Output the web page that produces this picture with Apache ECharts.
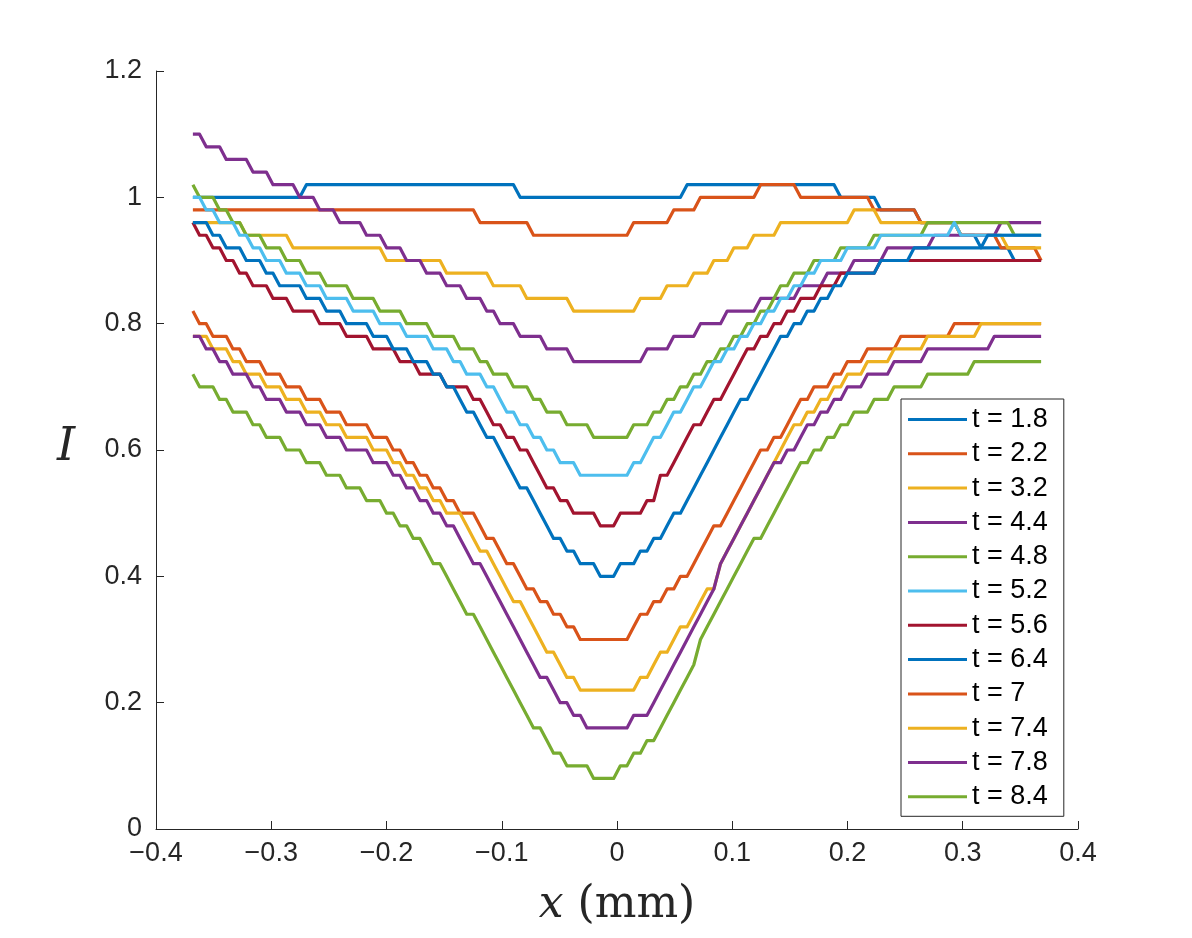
<!DOCTYPE html>
<html>
<head>
<meta charset="utf-8">
<script src="https://cdn.jsdelivr.net/npm/echarts@6/dist/echarts.min.js"></script>
<style>
  html, body { margin: 0; padding: 0; background: #fff; }
  #chart { width: 1192px; height: 938px; }
</style>
</head>
<body>
<div id="chart"></div>
<script>
// sampling grid of the profiles (mm)
const xStart = -0.368;
const xEnd = 0.368;
const nSamples = 128;

const legendNames = ['t = 1.8', 't = 2.2', 't = 3.2', 't = 4.4', 't = 4.8', 't = 5.2',
  't = 5.6', 't = 6.4', 't = 7', 't = 7.4', 't = 7.8', 't = 8.4'];

const xTicks = [-0.4, -0.3, -0.2, -0.1, 0, 0.1, 0.2, 0.3, 0.4];
const yTicks = [0, 0.2, 0.4, 0.6, 0.8, 1, 1.2];

// intensity profiles (8 samples per row)
const t18 = [
  1,1,1,1,1,1,1,1,
  1,1,1,1,1,1,1,1,
  1,1.02,1.02,1.02,1.02,1.02,1.02,1.02,
  1.02,1.02,1.02,1.02,1.02,1.02,1.02,1.02,
  1.02,1.02,1.02,1.02,1.02,1.02,1.02,1.02,
  1.02,1.02,1.02,1.02,1.02,1.02,1.02,1.02,
  1.02,1,1,1,1,1,1,1,
  1,1,1,1,1,1,1,1,
  1,1,1,1,1,1,1,1,
  1,1,1.02,1.02,1.02,1.02,1.02,1.02,
  1.02,1.02,1.02,1.02,1.02,1.02,1.02,1.02,
  1.02,1.02,1.02,1.02,1.02,1.02,1.02,1.02,
  1.02,1,1,1,1,1,1,0.98,
  0.98,0.98,0.98,0.98,0.98,0.96,0.96,0.96,
  0.96,0.96,0.96,0.94,0.94,0.94,0.92,0.92,
  0.92,0.92,0.92,0.9,0.9,0.9,0.9,0.9
];
const t22 = [
  0.98,0.98,0.98,0.98,0.98,0.98,0.98,0.98,
  0.98,0.98,0.98,0.98,0.98,0.98,0.98,0.98,
  0.98,0.98,0.98,0.98,0.98,0.98,0.98,0.98,
  0.98,0.98,0.98,0.98,0.98,0.98,0.98,0.98,
  0.98,0.98,0.98,0.98,0.98,0.98,0.98,0.98,
  0.98,0.98,0.98,0.96,0.96,0.96,0.96,0.96,
  0.96,0.96,0.96,0.94,0.94,0.94,0.94,0.94,
  0.94,0.94,0.94,0.94,0.94,0.94,0.94,0.94,
  0.94,0.94,0.96,0.96,0.96,0.96,0.96,0.96,
  0.98,0.98,0.98,0.98,1,1,1,1,
  1,1,1,1,1,1.02,1.02,1.02,
  1.02,1.02,1.02,1,1,1,1,1,
  1,1,1,1,1,1,0.98,0.98,
  0.98,0.98,0.98,0.98,0.98,0.96,0.96,0.96,
  0.96,0.96,0.96,0.94,0.94,0.94,0.94,0.94,
  0.94,0.92,0.92,0.92,0.92,0.92,0.92,0.9
];
const t32 = [
  0.96,0.96,0.96,0.96,0.96,0.96,0.96,0.96,
  0.94,0.94,0.94,0.94,0.94,0.94,0.94,0.92,
  0.92,0.92,0.92,0.92,0.92,0.92,0.92,0.92,
  0.92,0.92,0.92,0.92,0.92,0.9,0.9,0.9,
  0.9,0.9,0.9,0.9,0.9,0.9,0.88,0.88,
  0.88,0.88,0.88,0.88,0.88,0.86,0.86,0.86,
  0.86,0.86,0.84,0.84,0.84,0.84,0.84,0.84,
  0.84,0.82,0.82,0.82,0.82,0.82,0.82,0.82,
  0.82,0.82,0.82,0.84,0.84,0.84,0.84,0.86,
  0.86,0.86,0.86,0.88,0.88,0.88,0.9,0.9,
  0.9,0.92,0.92,0.92,0.94,0.94,0.94,0.94,
  0.96,0.96,0.96,0.96,0.96,0.96,0.96,0.96,
  0.96,0.96,0.96,0.98,0.98,0.98,0.98,0.96,
  0.96,0.96,0.96,0.96,0.96,0.96,0.96,0.96,
  0.96,0.96,0.96,0.94,0.94,0.94,0.94,0.94,
  0.94,0.94,0.92,0.92,0.92,0.92,0.92,0.92
];
const t44 = [
  1.1,1.1,1.08,1.08,1.08,1.06,1.06,1.06,
  1.06,1.04,1.04,1.04,1.02,1.02,1.02,1.02,
  1,1,1,0.98,0.98,0.98,0.96,0.96,
  0.96,0.96,0.94,0.94,0.94,0.92,0.92,0.92,
  0.9,0.9,0.9,0.88,0.88,0.88,0.86,0.86,
  0.86,0.84,0.84,0.84,0.82,0.82,0.8,0.8,
  0.8,0.78,0.78,0.78,0.78,0.76,0.76,0.76,
  0.76,0.74,0.74,0.74,0.74,0.74,0.74,0.74,
  0.74,0.74,0.74,0.74,0.76,0.76,0.76,0.76,
  0.78,0.78,0.78,0.78,0.8,0.8,0.8,0.8,
  0.82,0.82,0.82,0.82,0.82,0.84,0.84,0.84,
  0.84,0.84,0.84,0.86,0.86,0.86,0.86,0.88,
  0.88,0.88,0.88,0.9,0.9,0.9,0.9,0.9,
  0.92,0.92,0.92,0.92,0.92,0.92,0.92,0.94,
  0.94,0.94,0.94,0.94,0.94,0.94,0.94,0.94,
  0.94,0.96,0.96,0.96,0.96,0.96,0.96,0.96
];
const t48 = [
  1.02,1,1,1,0.98,0.98,0.96,0.96,
  0.94,0.94,0.94,0.92,0.92,0.92,0.9,0.9,
  0.9,0.88,0.88,0.88,0.86,0.86,0.86,0.86,
  0.84,0.84,0.84,0.84,0.82,0.82,0.82,0.82,
  0.8,0.8,0.8,0.8,0.78,0.78,0.78,0.78,
  0.76,0.76,0.76,0.74,0.74,0.72,0.72,0.72,
  0.7,0.7,0.7,0.68,0.68,0.66,0.66,0.66,
  0.64,0.64,0.64,0.64,0.62,0.62,0.62,0.62,
  0.62,0.62,0.64,0.64,0.64,0.66,0.66,0.68,
  0.68,0.7,0.7,0.72,0.72,0.74,0.74,0.76,
  0.76,0.78,0.78,0.8,0.8,0.82,0.82,0.84,
  0.86,0.86,0.88,0.88,0.88,0.9,0.9,0.9,
  0.9,0.92,0.92,0.92,0.92,0.92,0.94,0.94,
  0.94,0.94,0.94,0.94,0.94,0.94,0.96,0.96,
  0.96,0.96,0.96,0.96,0.96,0.96,0.96,0.96,
  0.96,0.96,0.96,0.94,0.94,0.94,0.94,0.94
];
const t52 = [
  1,1,0.98,0.98,0.96,0.96,0.96,0.94,
  0.94,0.92,0.92,0.9,0.9,0.9,0.88,0.88,
  0.88,0.86,0.86,0.86,0.84,0.84,0.84,0.84,
  0.82,0.82,0.82,0.82,0.8,0.8,0.8,0.8,
  0.78,0.78,0.78,0.78,0.76,0.76,0.76,0.74,
  0.74,0.72,0.72,0.72,0.7,0.7,0.68,0.66,
  0.66,0.64,0.64,0.62,0.62,0.6,0.6,0.58,
  0.58,0.58,0.56,0.56,0.56,0.56,0.56,0.56,
  0.56,0.56,0.58,0.58,0.6,0.62,0.62,0.64,
  0.66,0.66,0.68,0.7,0.7,0.72,0.74,0.74,
  0.76,0.76,0.78,0.78,0.8,0.8,0.82,0.82,
  0.84,0.84,0.86,0.86,0.88,0.88,0.9,0.9,
  0.9,0.9,0.92,0.92,0.92,0.92,0.92,0.94,
  0.94,0.94,0.94,0.94,0.94,0.94,0.94,0.94,
  0.94,0.94,0.96,0.94,0.94,0.94,0.94,0.94,
  0.94,0.94,0.94,0.94,0.94,0.94,0.94,0.94
];
const t56 = [
  0.96,0.94,0.94,0.92,0.92,0.9,0.9,0.88,
  0.88,0.86,0.86,0.86,0.84,0.84,0.84,0.82,
  0.82,0.82,0.82,0.8,0.8,0.8,0.8,0.78,
  0.78,0.78,0.78,0.76,0.76,0.76,0.76,0.74,
  0.74,0.74,0.72,0.72,0.72,0.72,0.7,0.7,
  0.7,0.7,0.68,0.68,0.66,0.64,0.64,0.62,
  0.62,0.6,0.6,0.58,0.56,0.54,0.54,0.52,
  0.52,0.5,0.5,0.5,0.5,0.48,0.48,0.48,
  0.5,0.5,0.5,0.5,0.52,0.52,0.56,0.56,
  0.58,0.6,0.62,0.64,0.64,0.66,0.68,0.68,
  0.7,0.72,0.74,0.76,0.76,0.78,0.78,0.8,
  0.8,0.82,0.82,0.84,0.84,0.84,0.86,0.86,
  0.86,0.88,0.88,0.88,0.88,0.88,0.88,0.9,
  0.9,0.9,0.9,0.9,0.9,0.9,0.9,0.9,
  0.9,0.9,0.9,0.9,0.9,0.9,0.9,0.9,
  0.9,0.9,0.9,0.9,0.9,0.9,0.9,0.9
];
const t64 = [
  0.96,0.96,0.96,0.94,0.94,0.92,0.92,0.92,
  0.9,0.9,0.9,0.88,0.88,0.86,0.86,0.86,
  0.86,0.84,0.84,0.84,0.82,0.82,0.82,0.8,
  0.8,0.8,0.8,0.78,0.78,0.78,0.76,0.76,
  0.76,0.74,0.74,0.74,0.72,0.72,0.7,0.7,
  0.68,0.66,0.66,0.64,0.62,0.62,0.6,0.58,
  0.56,0.54,0.54,0.52,0.5,0.48,0.46,0.46,
  0.44,0.44,0.42,0.42,0.42,0.4,0.4,0.4,
  0.42,0.42,0.42,0.44,0.44,0.46,0.46,0.48,
  0.5,0.5,0.52,0.54,0.56,0.58,0.6,0.62,
  0.64,0.66,0.68,0.68,0.7,0.72,0.74,0.76,
  0.78,0.78,0.8,0.8,0.82,0.82,0.84,0.84,
  0.86,0.86,0.88,0.88,0.88,0.88,0.88,0.9,
  0.9,0.9,0.9,0.9,0.92,0.92,0.92,0.92,
  0.92,0.92,0.92,0.92,0.92,0.92,0.92,0.94,
  0.94,0.94,0.94,0.94,0.94,0.94,0.94,0.94
];
const t70 = [
  0.82,0.8,0.8,0.78,0.78,0.78,0.76,0.76,
  0.74,0.74,0.74,0.72,0.72,0.72,0.7,0.7,
  0.7,0.68,0.68,0.68,0.66,0.66,0.66,0.64,
  0.64,0.64,0.64,0.62,0.62,0.62,0.6,0.6,
  0.58,0.58,0.56,0.56,0.54,0.54,0.52,0.52,
  0.5,0.5,0.5,0.48,0.46,0.46,0.44,0.42,
  0.42,0.4,0.38,0.38,0.36,0.36,0.34,0.34,
  0.32,0.32,0.3,0.3,0.3,0.3,0.3,0.3,
  0.3,0.3,0.32,0.34,0.34,0.36,0.36,0.38,
  0.38,0.4,0.4,0.42,0.44,0.46,0.48,0.48,
  0.5,0.52,0.54,0.56,0.58,0.6,0.6,0.62,
  0.62,0.64,0.66,0.68,0.68,0.7,0.7,0.7,
  0.72,0.72,0.74,0.74,0.74,0.76,0.76,0.76,
  0.76,0.76,0.78,0.78,0.78,0.78,0.78,0.78,
  0.78,0.78,0.8,0.8,0.8,0.8,0.8,0.8,
  0.8,0.8,0.8,0.8,0.8,0.8,0.8,0.8
];
const t74 = [
  0.78,0.78,0.78,0.76,0.76,0.76,0.74,0.74,
  0.72,0.72,0.72,0.7,0.7,0.7,0.68,0.68,
  0.68,0.66,0.66,0.66,0.64,0.64,0.64,0.62,
  0.62,0.62,0.62,0.6,0.6,0.6,0.58,0.58,
  0.56,0.56,0.54,0.54,0.52,0.52,0.5,0.5,
  0.5,0.48,0.46,0.44,0.44,0.42,0.4,0.38,
  0.36,0.36,0.34,0.32,0.3,0.28,0.28,0.26,
  0.24,0.24,0.22,0.22,0.22,0.22,0.22,0.22,
  0.22,0.22,0.22,0.24,0.24,0.26,0.28,0.28,
  0.3,0.32,0.32,0.34,0.36,0.38,0.38,0.42,
  0.44,0.46,0.48,0.5,0.52,0.54,0.56,0.58,
  0.6,0.62,0.64,0.64,0.66,0.66,0.68,0.68,
  0.7,0.7,0.72,0.72,0.72,0.74,0.74,0.74,
  0.74,0.76,0.76,0.76,0.76,0.76,0.78,0.78,
  0.78,0.78,0.78,0.78,0.78,0.78,0.8,0.8,
  0.8,0.8,0.8,0.8,0.8,0.8,0.8,0.8
];
const t78 = [
  0.78,0.78,0.76,0.76,0.74,0.74,0.72,0.72,
  0.72,0.7,0.7,0.68,0.68,0.68,0.66,0.66,
  0.66,0.64,0.64,0.64,0.62,0.62,0.62,0.6,
  0.6,0.6,0.6,0.58,0.58,0.58,0.56,0.56,
  0.54,0.54,0.52,0.52,0.5,0.5,0.48,0.48,
  0.46,0.44,0.42,0.42,0.4,0.38,0.36,0.34,
  0.32,0.3,0.28,0.26,0.24,0.24,0.22,0.2,
  0.2,0.18,0.18,0.16,0.16,0.16,0.16,0.16,
  0.16,0.16,0.18,0.18,0.18,0.2,0.22,0.24,
  0.26,0.28,0.3,0.32,0.34,0.36,0.38,0.42,
  0.44,0.46,0.48,0.5,0.52,0.54,0.56,0.58,
  0.58,0.6,0.6,0.62,0.64,0.64,0.66,0.66,
  0.68,0.68,0.7,0.7,0.7,0.72,0.72,0.72,
  0.72,0.74,0.74,0.74,0.74,0.74,0.76,0.76,
  0.76,0.76,0.76,0.76,0.76,0.76,0.76,0.76,
  0.78,0.78,0.78,0.78,0.78,0.78,0.78,0.78
];
const t84 = [
  0.72,0.7,0.7,0.7,0.68,0.68,0.66,0.66,
  0.66,0.64,0.64,0.62,0.62,0.62,0.6,0.6,
  0.6,0.58,0.58,0.58,0.56,0.56,0.56,0.54,
  0.54,0.54,0.52,0.52,0.52,0.5,0.5,0.48,
  0.48,0.46,0.46,0.44,0.42,0.42,0.4,0.38,
  0.36,0.34,0.34,0.32,0.3,0.28,0.26,0.24,
  0.22,0.2,0.18,0.16,0.16,0.14,0.12,0.12,
  0.1,0.1,0.1,0.1,0.08,0.08,0.08,0.08,
  0.1,0.1,0.12,0.12,0.14,0.14,0.16,0.18,
  0.2,0.22,0.24,0.26,0.3,0.32,0.34,0.36,
  0.38,0.4,0.42,0.44,0.46,0.46,0.48,0.5,
  0.52,0.54,0.56,0.58,0.58,0.6,0.6,0.62,
  0.62,0.64,0.64,0.66,0.66,0.66,0.68,0.68,
  0.68,0.7,0.7,0.7,0.7,0.7,0.72,0.72,
  0.72,0.72,0.72,0.72,0.72,0.74,0.74,0.74,
  0.74,0.74,0.74,0.74,0.74,0.74,0.74,0.74
];

const profiles = [t18, t22, t32, t44, t48, t52, t56, t64, t70, t74, t78, t84];
const colors = ['#0072BD', '#D95319', '#EDB120', '#7E2F8E', '#77AC30', '#4DBEEE', '#A2142F'];

const xs = [];
for (let i = 0; i < nSamples; i++) {
  xs.push(xStart + i * (xEnd - xStart) / (nSamples - 1));
}

const axisColor = '#262626';
const tickFont = '"Liberation Sans", Arial, Helvetica, sans-serif';
const fmt = v => {
  const r = Math.round(v * 10) / 10;
  return r < 0 ? '\u2212' + String(-r) : String(r);
};

const chart = echarts.init(document.getElementById('chart'), null, { renderer: 'canvas' });

const series = profiles.map((vals, k) => ({
  name: legendNames[k],
  type: 'line',
  data: vals.map((v, i) => [xs[i], v]),
  symbol: 'none',
  silent: true,
  lineStyle: { width: 3.2, color: colors[k % colors.length], join: 'round' },
  itemStyle: { color: colors[k % colors.length] },
  emphasis: { disabled: true }
}));

const option = {
  animation: false,
  backgroundColor: '#fff',
  grid: { left: 156, right: 114, top: 71, bottom: 109, containLabel: false },
  xAxis: {
    type: 'value',
    min: xTicks[0],
    max: xTicks[xTicks.length - 1],
    interval: 0.1,
    axisLine: { show: true, onZero: false, lineStyle: { color: axisColor, width: 1 } },
    axisTick: { show: true, inside: true, length: 8, lineStyle: { color: axisColor } },
    splitLine: { show: false },
    axisLabel: { fontSize: 27, color: axisColor, fontFamily: tickFont, margin: 11, formatter: fmt }
  },
  yAxis: {
    type: 'value',
    min: yTicks[0],
    max: yTicks[yTicks.length - 1],
    interval: 0.2,
    axisLine: { show: true, onZero: false, lineStyle: { color: axisColor, width: 1 } },
    axisTick: { show: true, inside: true, length: 8, lineStyle: { color: axisColor } },
    splitLine: { show: false },
    axisLabel: { fontSize: 27, color: axisColor, fontFamily: tickFont, margin: 14, formatter: fmt }
  },
  legend: {
    orient: 'vertical',
    left: 901,
    top: 399,
    padding: [7, 16, 6, 7],
    icon: 'rect',
    itemWidth: 59,
    itemHeight: 3,
    itemGap: 7.3,
    backgroundColor: '#fff',
    borderColor: axisColor,
    borderWidth: 1,
    borderRadius: 0,
    selectedMode: false,
    textStyle: { fontSize: 27, lineHeight: 26, color: '#000', fontFamily: tickFont },
    data: legendNames
  },
  graphic: [
    {
      type: 'text',
      x: 617,
      y: 906,
      style: {
        text: '{i|x} (mm)',
        fill: axisColor,
        font: '44px "DejaVu Serif", serif',
        align: 'center',
        verticalAlign: 'middle',
        rich: {
          i: { fontStyle: 'italic', fontFamily: '"DejaVu Serif", serif', fontSize: 44, fill: axisColor }
        }
      }
    },
    {
      type: 'text',
      x: 66,
      y: 448,
      style: {
        text: 'I',
        fill: axisColor,
        font: 'italic 46px "DejaVu Serif", serif',
        align: 'center',
        verticalAlign: 'middle'
      }
    }
  ],
  series: series
};

chart.setOption(option, true);
</script>
</body>
</html>
